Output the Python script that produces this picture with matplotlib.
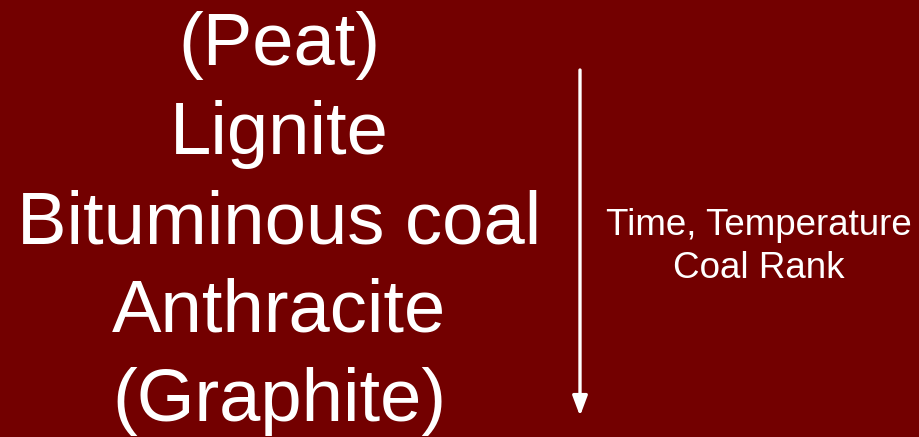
import matplotlib.pyplot as plt

# Coal series text, top to bottom
ranks = ["(Peat)", "Lignite", "Bituminous coal", "Anthracite", "(Graphite)"]
side_label = ["Time, Temperature", "Coal Rank"]

bg = "#730000"
plt.rcParams['font.family'] = ['Liberation Sans', 'DejaVu Sans']

fig = plt.figure(figsize=(9.19, 4.37), dpi=100, facecolor=bg)
ax = fig.add_axes([0, 0, 1, 1])
ax.set_xlim(0, 919)
ax.set_ylim(437, 0)  # pixel-like coords, top-left origin
ax.axis("off")

# big labels (baselines)
y0, step = 65, 89
for i, name in enumerate(ranks):
    ax.text(279, y0 + i * step, name, color="white",
            fontsize=53.5, ha="center", va="baseline")

# arrow down
ax.annotate("", xy=(580, 416), xytext=(580, 70),
            arrowprops=dict(arrowstyle="-|>,head_length=1.2,head_width=0.45",
                            color="white", lw=2.4, shrinkA=0, shrinkB=0))

# right side label
ax.text(759, 235, side_label[0], color="white", fontsize=26.5, ha="center", va="baseline")
ax.text(759, 278, side_label[1], color="white", fontsize=26.5, ha="center", va="baseline")

fig.savefig("out.png", dpi=100, facecolor=bg)
